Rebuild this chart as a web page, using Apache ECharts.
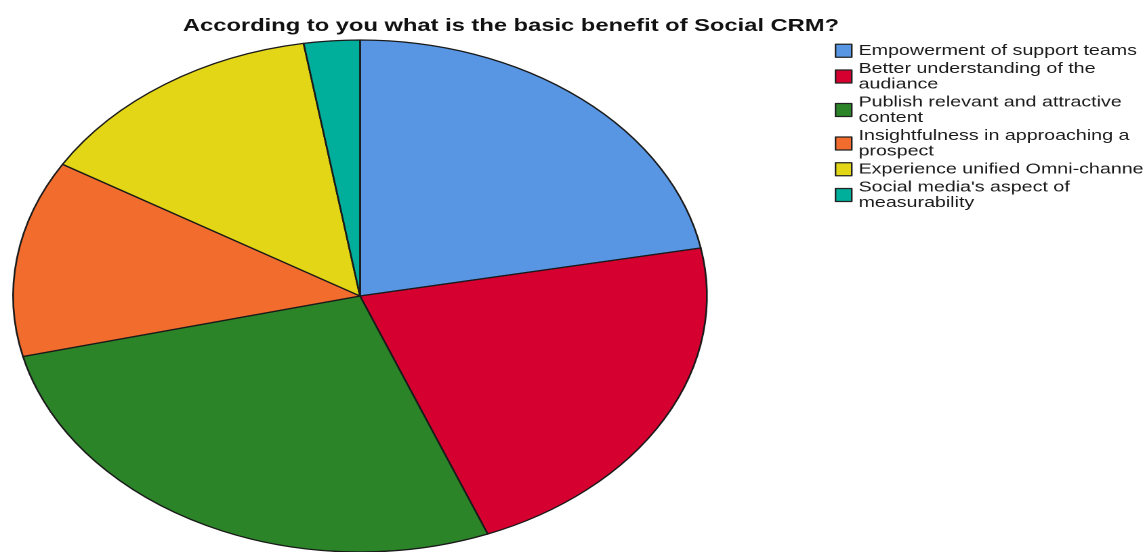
<!DOCTYPE html>
<html>
<head>
<meta charset="utf-8">
<script src="https://cdn.jsdelivr.net/npm/echarts@6/dist/echarts.min.js"></script>
<style>
  html, body { margin: 0; padding: 0; background: #fff; overflow: hidden; }
  #wrap { width: 1144px; height: 552px; overflow: hidden; }
  #chart { width: 845px; height: 552px; transform: scaleX(1.355); transform-origin: 0 0; }
</style>
</head>
<body>
<div id="wrap"><div id="chart"></div></div>
<script>
const titleText = "According to you what is the basic benefit of Social CRM?";
const categories = [
  "Empowerment of support teams",
  "Better understanding of the audiance",
  "Publish relevant and attractive content",
  "Insightfulness in approaching a prospect",
  "Experience unified Omni-channel",
  "Social media's aspect of measurability"
];
const legendLabels = [
  "Empowerment of support teams",
  "Better understanding of the\naudiance",
  "Publish relevant and attractive\ncontent",
  "Insightfulness in approaching a\nprospect",
  "Experience unified Omni-channel",
  "Social media's aspect of\nmeasurability"
];
const percents = [22.0, 22.0, 27.2, 12.4, 13.8, 2.6];
const colors = ["#5896e4", "#d5002f", "#2b8428", "#f26c2d", "#e3d616", "#00af9b"];

const chart = echarts.init(document.getElementById('chart'), null, { devicePixelRatio: 2 });
const font = "'Liberation Sans', Arial, sans-serif";
chart.setOption({
  animation: false,
  color: colors,
  title: {
    text: titleText,
    left: 135,
    top: 17,
    padding: 0,
    textStyle: { fontFamily: font, fontSize: 17.5, fontWeight: 'bold', color: '#111' }
  },
  legend: {
    orient: 'vertical',
    left: 616,
    top: 43,
    padding: 0,
    itemWidth: 12,
    itemHeight: 13,
    itemGap: 2.5,
    icon: 'rect',
    itemStyle: { borderColor: '#222', borderWidth: 1.2 },
    data: categories,
    formatter: function (name) { return legendLabels[categories.indexOf(name)]; },
    textStyle: { fontFamily: font, fontSize: 14.5, lineHeight: 15.5, color: '#1a1a1a' }
  },
  series: [{
    type: 'pie',
    center: [265.7, 296],
    radius: [0, 256],
    startAngle: 90,
    clockwise: true,
    label: { show: false },
    labelLine: { show: false },
    emphasis: { disabled: true },
    itemStyle: { borderColor: '#1a1a1a', borderWidth: 1.3 },
    data: categories.map((c, i) => ({ name: c, value: percents[i] }))
  }]
});
</script>
</body>
</html>
